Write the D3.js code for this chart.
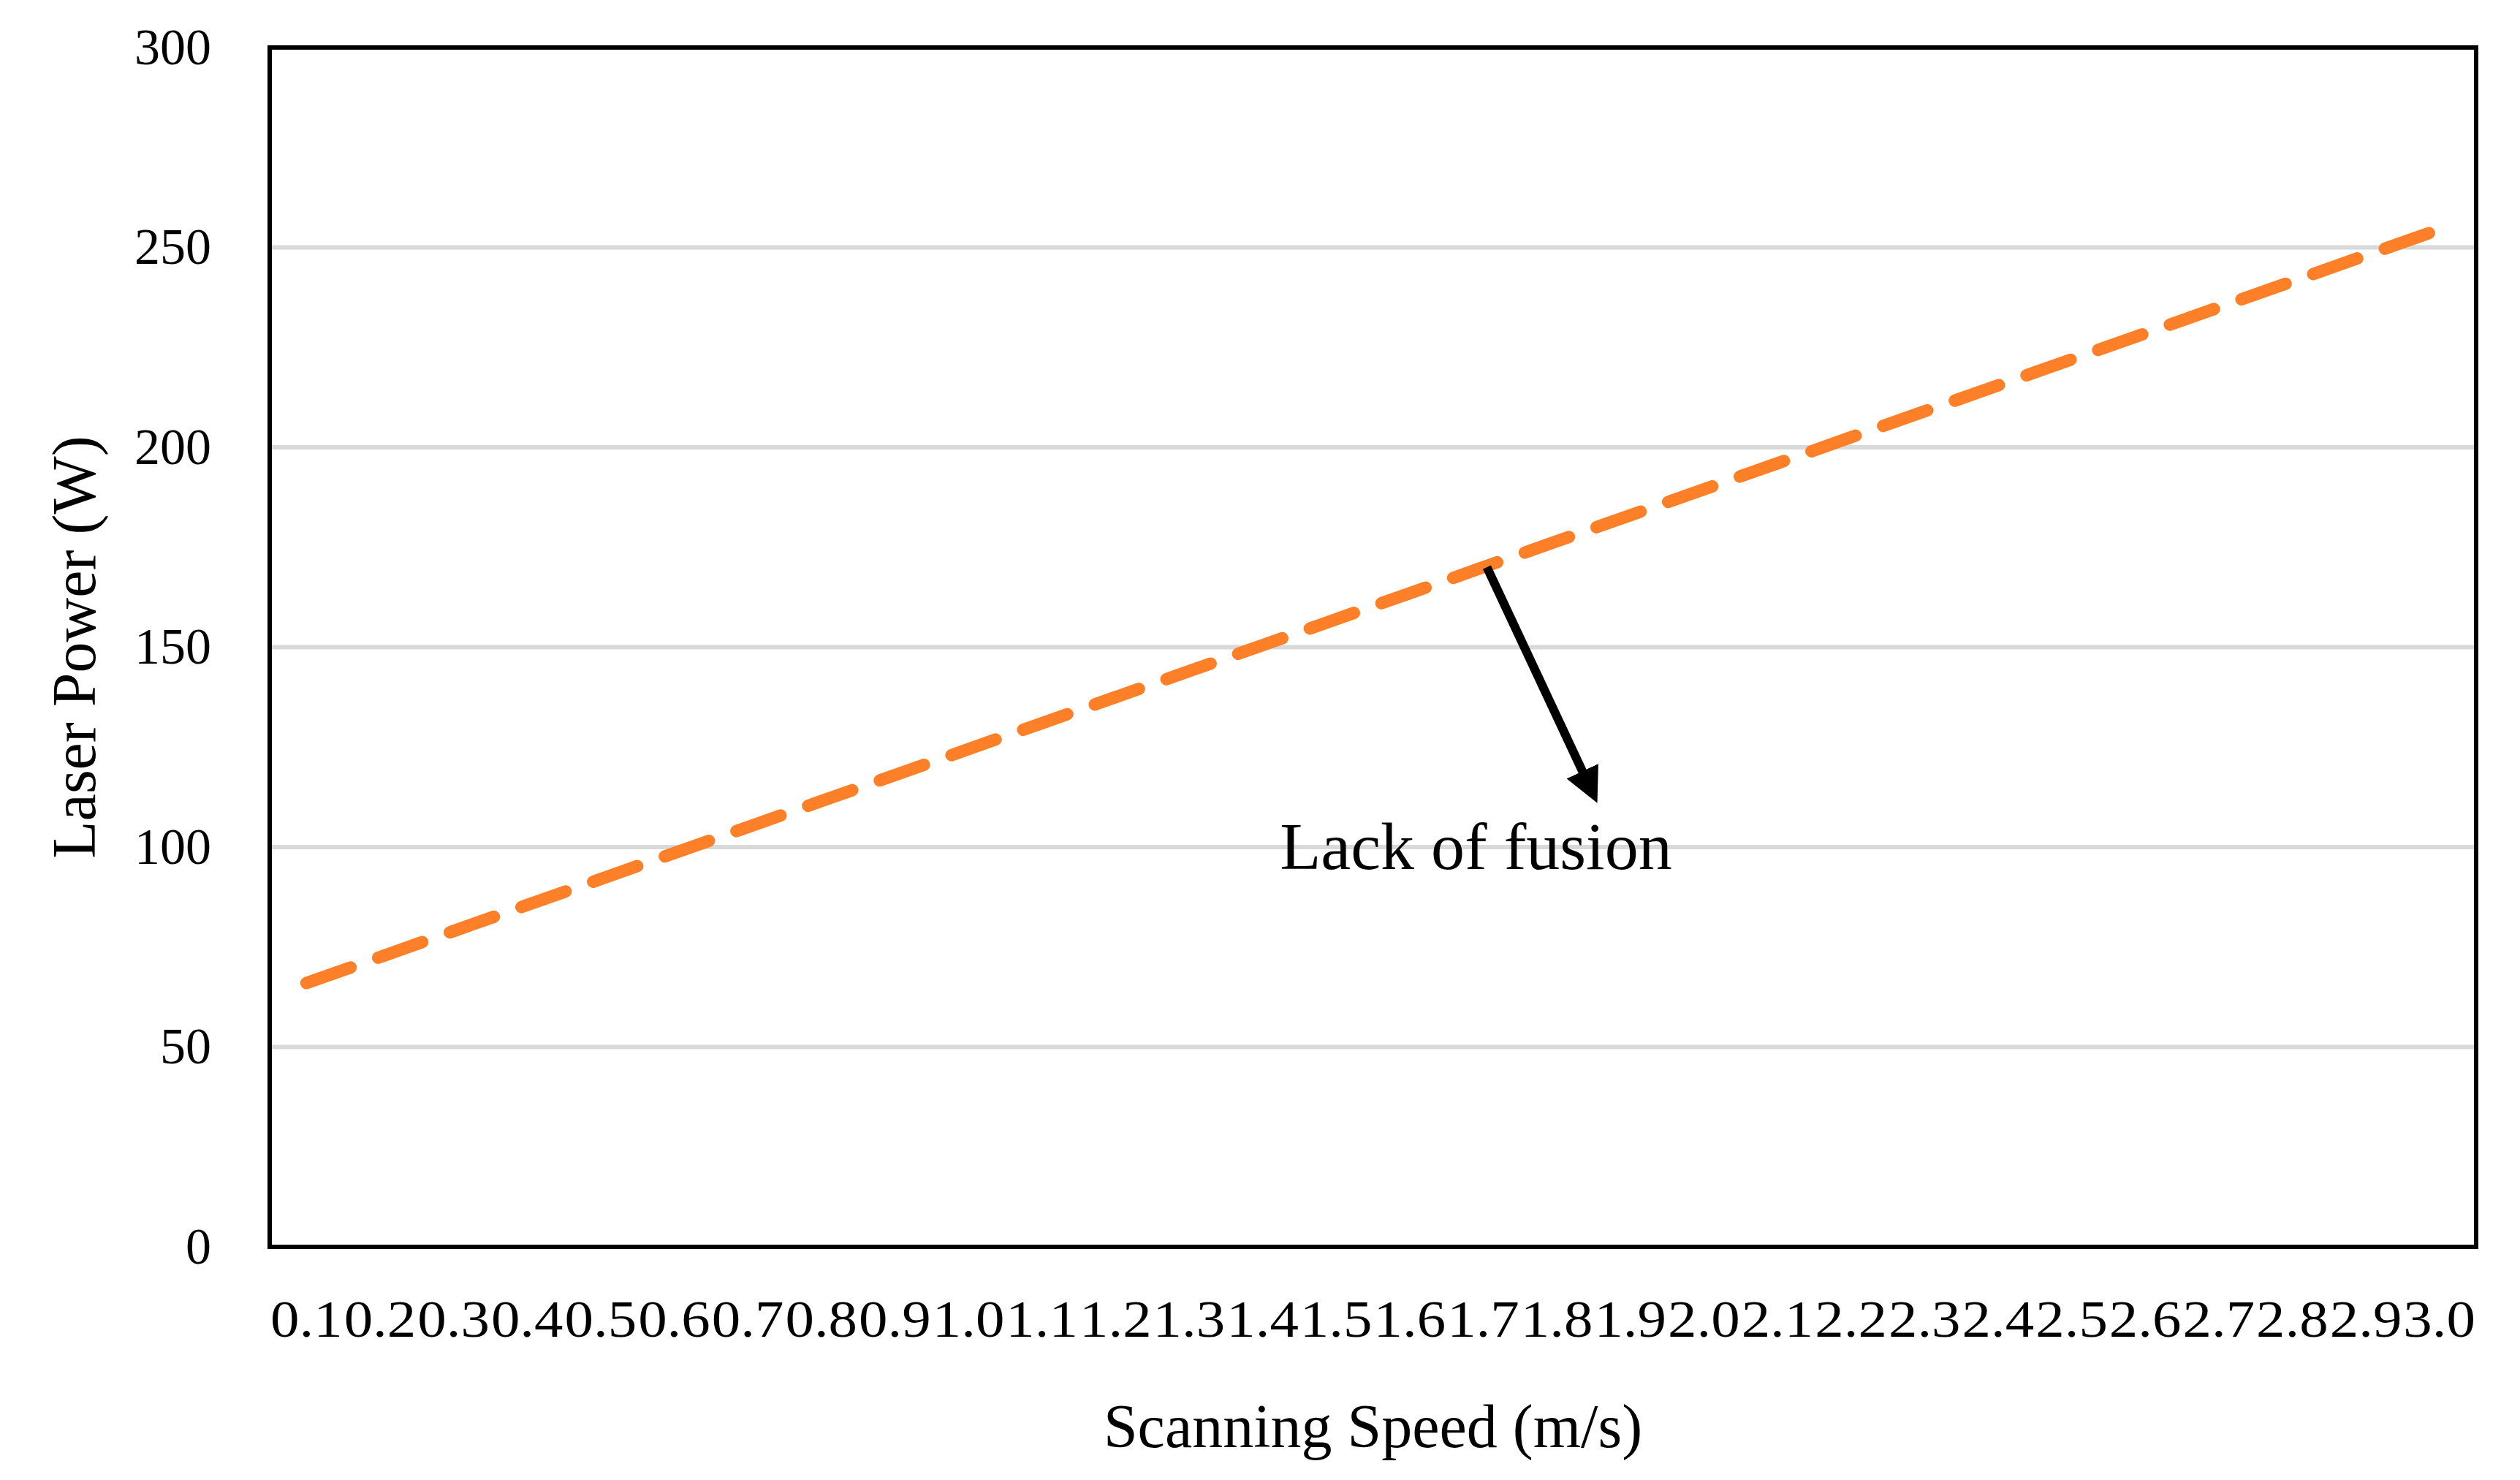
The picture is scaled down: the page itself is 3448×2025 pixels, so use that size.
<!DOCTYPE html>
<html>
<head>
<meta charset="utf-8">
<script src="https://cdn.jsdelivr.net/npm/d3@7"></script>
<style>
  body { margin: 0; background: #fff; }
  text { font-family: "Liberation Serif", "DejaVu Serif", serif; fill: #000; }
</style>
</head>
<body>
<div id="chart"></div>
<script>
// Datos
var speeds = ["0.1","0.2","0.3","0.4","0.5","0.6","0.7","0.8","0.9","1.0",
              "1.1","1.2","1.3","1.4","1.5","1.6","1.7","1.8","1.9","2.0",
              "2.1","2.2","2.3","2.4","2.5","2.6","2.7","2.8","2.9","3.0"];
var power = [66, 72.5, 79, 85.5, 92, 98.5, 105, 111.5, 118, 124.5,
             131, 137.5, 144, 150.5, 157, 163.5, 170, 176.5, 183, 189.5,
             196, 202.5, 209, 215.5, 222, 228.5, 235, 241.5, 248, 254.5];
var yTicks = [0, 50, 100, 150, 200, 250, 300];

var width = 3448, height = 2025;
var margin = {top: 65, right: 60, bottom: 319, left: 369};

var svg = d3.select("#chart").append("svg")
  .attr("width", width)
  .attr("height", height);

var x = d3.scaleBand()
  .domain(speeds)
  .range([margin.left, width - margin.right]);

var y = d3.scaleLinear()
  .domain([0, 300])
  .range([height - margin.bottom, margin.top]);

// Líneas de cuadrícula
svg.append("g")
  .selectAll("line")
  .data(yTicks.slice(1, -1))
  .enter().append("line")
  .attr("x1", margin.left).attr("x2", width - margin.right)
  .attr("y1", function(d) { return y(d); })
  .attr("y2", function(d) { return y(d); })
  .attr("stroke", "#d9d9d9")
  .attr("stroke-width", 6);

// Eje Y
var yAxis = svg.append("g")
  .attr("transform", `translate(${margin.left},0)`)
  .call(d3.axisLeft(y).tickValues(yTicks).tickSize(0).tickPadding(80));
yAxis.select(".domain").remove();
yAxis.selectAll("text").style("font-size", "70px").style("font-family", "Liberation Serif");

// Eje X
var xAxis = svg.append("g")
  .attr("transform", `translate(0,${height - margin.bottom})`)
  .call(d3.axisBottom(x).tickSize(0).tickPadding(72));
xAxis.select(".domain").remove();
xAxis.selectAll("text").style("font-size", "72px").style("font-family", "Liberation Serif")
  .attr("textLength", x.bandwidth() - 2).attr("lengthAdjust", "spacingAndGlyphs");

// Línea discontinua
var line = d3.line()
  .x(function(d, i) { return x(speeds[i]) + x.bandwidth() / 2; })
  .y(function(d) { return y(d); });

svg.append("path")
  .datum(power)
  .attr("d", line)
  .attr("fill", "none")
  .attr("stroke", "#fd7f27")
  .attr("stroke-width", 17)
  .attr("stroke-linecap", "round")
  .attr("stroke-dasharray", "64,40");

// Marco
svg.append("rect")
  .attr("x", margin.left).attr("y", margin.top)
  .attr("width", width - margin.left - margin.right)
  .attr("height", height - margin.top - margin.bottom)
  .attr("fill", "none")
  .attr("stroke", "#000")
  .attr("stroke-width", 6);

// Flecha y anotación
svg.append("defs").append("marker")
  .attr("id", "arrow")
  .attr("viewBox", "0 0 10 10")
  .attr("refX", 5).attr("refY", 5)
  .attr("markerWidth", 4).attr("markerHeight", 4)
  .attr("orient", "auto")
  .append("path").attr("d", "M0,0 L10,5 L0,10 z").attr("fill", "#000");

var ax0 = x("1.7") + x.bandwidth() / 2 + 5, ay0 = y(170);
var ax1 = x("1.8") + x.bandwidth() * 0.95, ay1 = y(115);
svg.append("line")
  .attr("x1", ax0).attr("y1", ay0)
  .attr("x2", ax1).attr("y2", ay1)
  .attr("stroke", "#000")
  .attr("stroke-width", 12)
  .attr("marker-end", "url(#arrow)");

svg.append("text")
  .attr("x", x("1.7") + x.bandwidth() * 0.4)
  .attr("y", y(100) + 30)
  .attr("text-anchor", "middle")
  .style("font-size", "92px")
  .text("Lack of fusion");

// Títulos de ejes
svg.append("text")
  .attr("x", (margin.left + width - margin.right) / 2)
  .attr("y", 1980)
  .attr("text-anchor", "middle")
  .style("font-size", "84px")
  .text("Scanning Speed (m/s)");

svg.append("text")
  .attr("transform", `translate(130,${(margin.top + height - margin.bottom) / 2}) rotate(-90)`)
  .attr("text-anchor", "middle")
  .style("font-size", "84px")
  .text("Laser Power (W)");
</script>
</body>
</html>
